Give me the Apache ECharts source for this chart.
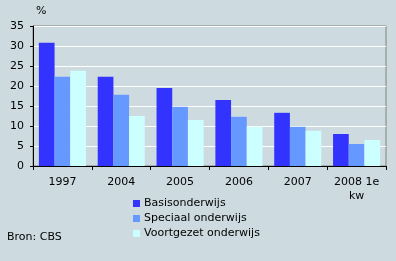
<!DOCTYPE html>
<html><head><meta charset="utf-8">
<script src="https://cdn.jsdelivr.net/npm/echarts@6/dist/echarts.min.js"></script>
<style>html,body{margin:0;padding:0;background:#cddbe0;}#c{width:396px;height:261px;}</style>
</head><body><div id="c"></div>
<script>
const categories = ['1997','2004','2005','2006','2007','2008 1e\nkw'];
const basis = [30.8, 22.3, 19.5, 16.5, 13.3, 8.0];
const speciaal = [22.3, 17.8, 14.8, 12.3, 9.8, 5.5];
const voortgezet = [23.8, 12.5, 11.5, 9.8, 8.8, 6.5];
const seriesNames = ['Basisonderwijs','Speciaal onderwijs','Voortgezet onderwijs'];
const colors = ['#3333ff','#6699ff','#ccffff'];
const font = 'DejaVu Sans, Verdana, sans-serif';
const chart = echarts.init(document.getElementById('c'));
chart.setOption({
  backgroundColor: '#cddbe0',
  animation: false,
  textStyle: {fontFamily: font},
  grid: {left: 33, right: 10, top: 26, bottom: 95, show: true, borderColor: '#808080', borderWidth: 1, backgroundColor: 'transparent'},
  title: [
    {text: '%', left: 36, top: 6, padding: 0, textStyle: {fontSize: 11, fontWeight: 'normal', color: '#000', fontFamily: font}},
    {text: 'Bron: CBS', left: 7, top: 232, padding: 0, textStyle: {fontSize: 11, fontWeight: 'normal', color: '#000', fontFamily: font}}
  ],
  legend: {
    orient: 'vertical', left: 133, top: 197, padding: 0, itemWidth: 7, itemHeight: 7, itemGap: 2,
    icon: 'rect', data: seriesNames,
    textStyle: {fontSize: 11, color: '#000', fontFamily: font, padding: [0,0,0,-1], lineHeight: 13}
  },
  xAxis: {
    type: 'category', data: categories,
    axisLine: {lineStyle: {color: '#000'}},
    axisTick: {show: true, length: 4, lineStyle: {color: '#000'}},
    axisLabel: {color: '#000', fontSize: 11, margin: 9, lineHeight: 14, fontFamily: font, interval: 0}
  },
  yAxis: {
    type: 'value', min: 0, max: 35, interval: 5,
    axisLine: {show: true, lineStyle: {color: '#000'}},
    axisTick: {show: true, length: 3, lineStyle: {color: '#000'}},
    axisLabel: {color: '#000', fontSize: 11, margin: 9, fontFamily: font},
    splitLine: {lineStyle: {color: '#ffffff', width: 1}}
  },
  series: [
    {name: seriesNames[0], type: 'bar', data: basis, itemStyle: {color: colors[0]}, barGap: '0%', barCategoryGap: '20%'},
    {name: seriesNames[1], type: 'bar', data: speciaal, itemStyle: {color: colors[1]}, barGap: '0%', barCategoryGap: '20%'},
    {name: seriesNames[2], type: 'bar', data: voortgezet, itemStyle: {color: colors[2]}, barGap: '0%', barCategoryGap: '20%'}
  ]
});
</script></body></html>
